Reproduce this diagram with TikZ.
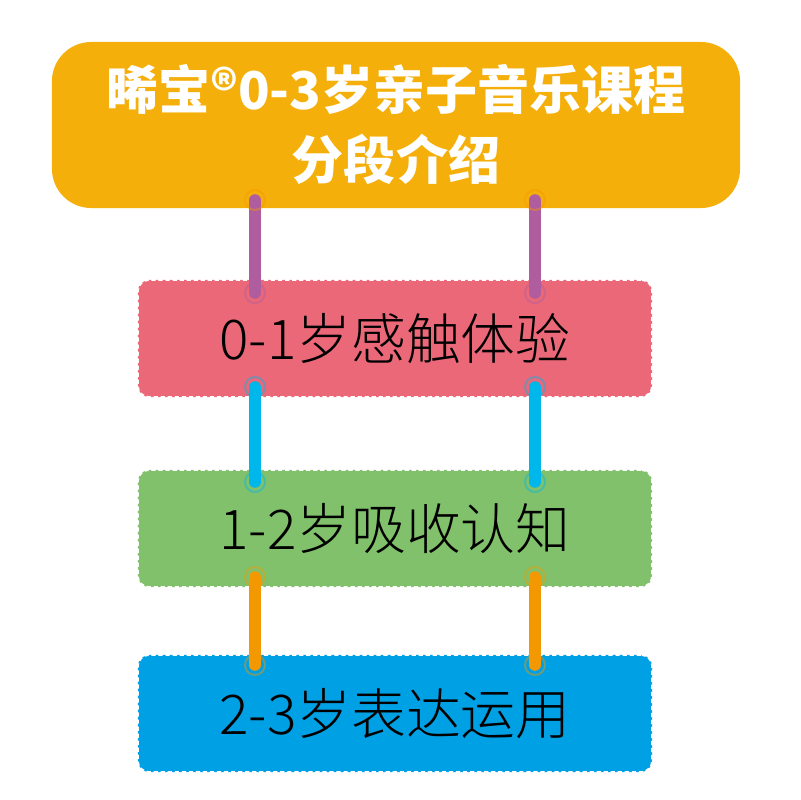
\documentclass[tikz,border=0pt]{standalone}
\usepackage{fontspec}
\newfontfamily\cjk{Noto Sans CJK SC}
\newfontfamily\cjklight{Noto Sans CJK SC Light}
\usetikzlibrary{positioning}

\definecolor{titlecol}{RGB}{245, 175, 10}
\definecolor{redbox}{RGB}{234, 104, 119}
\definecolor{greenbox}{RGB}{129, 193, 107}
\definecolor{bluebox}{RGB}{0, 160, 228}
\definecolor{purplelink}{RGB}{176, 93, 160}
\definecolor{cyanlink}{RGB}{0, 183, 235}
\definecolor{orangelink}{RGB}{243, 152, 0}

\tikzset{
    stagebox/.style={rounded corners=8pt, minimum width=12.85cm, minimum height=2.925cm,
        draw=white, densely dashed, line width=1.2pt, text=black,
        font=\cjklight\fontsize{39}{46}\selectfont},
    link/.style={line width=8.2pt, line cap=round},
    ring/.style={draw, line width=1.4pt, opacity=0.45}
}

\begin{document}
\begin{tikzpicture}[x=0.025cm, y=-0.025cm]
    \useasboundingbox (0,0) rectangle (800,800);

    % Header box
    \node[fill=titlecol, rounded corners=28pt, minimum width=17.2cm, minimum height=4.15cm,
          text=white, align=center, font=\cjk\bfseries\fontsize{37}{49.8}\selectfont]
          (title) at (396,125) {晞宝®0-3岁亲子音乐课程\\分段介绍};

    % Age stages
    \node[stagebox, fill=redbox] (stage1) at (395,338.5) {0-1岁感触体验};
    \node[stagebox, fill=greenbox] (stage2) at (395,528.5) {1-2岁吸收认知};
    \node[stagebox, fill=bluebox] (stage3) at (395,713.5) {2-3岁表达运用};

    % Link end points (left x=255, right x=535)
    \coordinate (a1) at (255,200);  \coordinate (a2) at (255,293);
    \coordinate (b1) at (535,200);  \coordinate (b2) at (535,293);
    \coordinate (c1) at (255,387);  \coordinate (c2) at (255,482);
    \coordinate (d1) at (535,387);  \coordinate (d2) at (535,482);
    \coordinate (e1) at (255,577);  \coordinate (e2) at (255,665);
    \coordinate (f1) at (535,577);  \coordinate (f2) at (535,665);

    % Links
    \draw[link, purplelink] (a1) -- (a2);
    \draw[link, purplelink] (b1) -- (b2);
    \draw[link, cyanlink] (c1) -- (c2);
    \draw[link, cyanlink] (d1) -- (d2);
    \draw[link, orangelink] (e1) -- (e2);
    \draw[link, orangelink] (f1) -- (f2);

    % Rings at link ends
    \foreach \p/\c in {a1/orangelink, b1/orangelink, a2/purplelink, b2/purplelink,
                       c1/cyanlink, d1/cyanlink, c2/cyanlink, d2/cyanlink,
                       e1/orangelink, f1/orangelink, e2/orangelink, f2/orangelink}
        \draw[ring, \c] (\p) circle (10);

\end{tikzpicture}
\end{document}
